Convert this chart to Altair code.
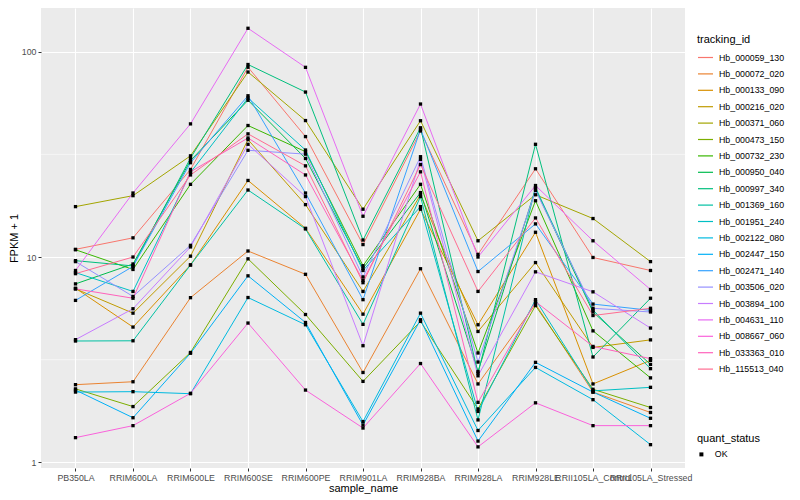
import altair as alt
import pandas as pd

samples = ["PB350LA", "RRIM600LA", "RRIM600LE", "RRIM600SE", "RRIM600PE", "RRIM901LA",
           "RRIM928BA", "RRIM928LA", "RRIM928LE", "RRII105LA_Control", "RRII105LA_Stressed"]

tracking_ids = ["Hb_000059_130", "Hb_000072_020", "Hb_000133_090", "Hb_000216_020",
                "Hb_000371_060", "Hb_000473_150", "Hb_000732_230", "Hb_000950_040",
                "Hb_000997_340", "Hb_001369_160", "Hb_001951_240", "Hb_002122_080",
                "Hb_002447_150", "Hb_002471_140", "Hb_003506_020", "Hb_003894_100",
                "Hb_004631_110", "Hb_008667_060", "Hb_033363_010", "Hb_115513_040"]

palette = ["#F8766D", "#EA8331", "#D89000", "#C09B00", "#A3A500", "#7CAE00", "#39B600",
           "#00BB4E", "#00BF7D", "#00C1A3", "#00BFC4", "#00BAE0", "#00B0F6", "#35A2FF",
           "#9590FF", "#C77CFF", "#E76BF3", "#FA62DB", "#FF62BC", "#FF6C91"]

# FPKM + 1 per sample (order of `samples`)
hb_000059_130 = [10.9, 12.4, 26.7, 84.0, 38.6, 11.5, 41.1, 10.3, 26.9, 9.95, 8.6]
hb_000072_020 = [2.39, 2.47, 6.34, 10.7, 8.24, 2.74, 8.77, 2.41, 5.9, 2.2, 1.75]
hb_000133_090 = [7.05, 4.56, 9.15, 23.6, 13.8, 5.27, 17.1, 4.68, 13.2, 2.41, 3.14]
hb_000216_020 = [7.0, 5.33, 10.1, 37.3, 18.0, 6.8, 20.1, 4.34, 9.4, 3.63, 3.95]
hb_000371_060 = [17.6, 19.9, 31.1, 79.6, 46.2, 17.1, 46.1, 12.0, 20.1, 15.4, 9.5]
hb_000473_150 = [2.28, 1.87, 3.43, 9.8, 5.25, 2.48, 4.86, 1.82, 5.8, 2.27, 1.85]
hb_000732_230 = [10.85, 8.7, 22.6, 43.7, 32.6, 9.07, 22.6, 3.41, 18.8, 4.37, 2.58]
hb_000950_040 = [7.4, 9.25, 29.5, 58.0, 30.2, 8.8, 20.6, 2.77, 21.5, 5.4, 3.0]
hb_000997_340 = [9.6, 9.05, 30.3, 86.6, 63.6, 12.1, 42.6, 2.72, 35.4, 3.26, 6.3]
hb_001369_160 = [3.9, 3.91, 9.15, 21.2, 13.7, 4.7, 19.7, 1.61, 21.8, 5.52, 2.86]
hb_001951_240 = [8.4, 6.8, 25.8, 59.5, 33.2, 8.6, 17.6, 1.77, 6.2, 2.23, 2.32]
hb_002122_080 = [2.2, 2.21, 2.16, 6.35, 4.68, 1.58, 5.33, 1.43, 2.9, 2.02, 1.22]
hb_002447_150 = [2.25, 1.65, 3.4, 8.1, 4.8, 1.52, 4.95, 1.27, 3.07, 2.2, 1.64]
hb_002471_140 = [6.15, 9.0, 28.8, 61.0, 20.5, 6.2, 41.9, 8.5, 14.5, 5.9, 5.5]
hb_003506_020 = [9.5, 6.43, 11.4, 33.1, 31.7, 8.0, 30.8, 3.08, 21.1, 5.63, 5.4]
hb_003894_100 = [3.96, 5.6, 11.2, 35.4, 19.7, 3.7, 29.9, 2.64, 8.47, 6.77, 4.51]
hb_004631_110 = [8.6, 20.5, 44.5, 130.0, 83.9, 15.8, 55.6, 10.0, 22.3, 12.0, 6.95]
hb_008667_060 = [1.32, 1.51, 2.17, 4.77, 2.25, 1.47, 3.03, 1.19, 1.95, 1.51, 1.51]
hb_033363_010 = [7.0, 6.3, 26.0, 38.0, 25.1, 7.7, 26.0, 1.96, 6.07, 3.67, 3.2]
hb_115513_040 = [8.3, 10.0, 25.1, 39.8, 27.8, 7.5, 28.2, 6.8, 15.5, 5.19, 5.63]

series = [hb_000059_130, hb_000072_020, hb_000133_090, hb_000216_020, hb_000371_060,
          hb_000473_150, hb_000732_230, hb_000950_040, hb_000997_340, hb_001369_160,
          hb_001951_240, hb_002122_080, hb_002447_150, hb_002471_140, hb_003506_020,
          hb_003894_100, hb_004631_110, hb_008667_060, hb_033363_010, hb_115513_040]

y_major = [1, 10, 100]
y_minor = [3.1623, 31.623]

rows = []
for tid, vals in zip(tracking_ids, series):
    for s, v in zip(samples, vals):
        rows.append({"tracking_id": tid, "sample_name": s, "fpkm": v, "quant_status": "OK"})
df = pd.DataFrame(rows)
minor_df = pd.DataFrame({"fpkm": y_minor})

FONT = "Liberation Sans"

x_enc = alt.X("sample_name:N", sort=samples,
              scale=alt.Scale(type="point", padding=0.6),
              title="sample_name",
              axis=alt.Axis(labelAngle=0, labelOverlap=False, labelBound=False,
                            labelFlush=False, labelLimit=200, grid=True,
                            labelPadding=2, titlePadding=1))
y_enc = alt.Y("fpkm:Q", title="FPKM + 1",
              scale=alt.Scale(type="log", domain=[0.939, 163.2], nice=False),
              axis=alt.Axis(values=y_major, format=".0f", grid=True,
                            labelPadding=2, titlePadding=2))

minor = alt.Chart(minor_df).mark_rule(color="white", strokeWidth=0.55).encode(y=y_enc)

lines = alt.Chart(df).mark_line(strokeWidth=1).encode(
    x=x_enc, y=y_enc,
    color=alt.Color("tracking_id:N",
                    scale=alt.Scale(domain=tracking_ids, range=palette),
                    legend=alt.Legend(title="tracking_id", orient="none",
                                      legendX=656, legendY=26,
                                      symbolType="stroke", symbolSize=225,
                                      symbolStrokeWidth=1.2, rowPadding=2.4,
                                      titlePadding=4, labelOffset=5, padding=0))
)

points = alt.Chart(df).mark_point(filled=True, size=11, opacity=1, color="black").encode(
    x=x_enc, y=y_enc,
    shape=alt.Shape("quant_status:N",
                    scale=alt.Scale(domain=["OK"], range=["square"]),
                    legend=alt.Legend(title="quant_status", orient="none",
                                      legendX=656, legendY=425,
                                      symbolSize=16, symbolFillColor="black",
                                      symbolStrokeColor="black", titlePadding=6,
                                      labelOffset=9, padding=0))
)

chart = alt.layer(minor, lines, points).properties(
    width=644, height=460, padding=0
).configure_view(fill="#EBEBEB", stroke=None).configure_axis(
    domain=False, tickColor="#333333", tickSize=3, tickWidth=1,
    labelColor="#4D4D4D", labelFontSize=8.8, labelFont=FONT,
    titleFont=FONT, titleFontSize=11, titleColor="black", titleFontWeight="normal",
    gridColor="white", gridWidth=1.1
).configure_legend(
    titleFont=FONT, titleFontSize=11, titleFontWeight="normal", titleColor="black",
    labelFont=FONT, labelFontSize=8.8, labelColor="black"
)

chart.save("out.html", embed_options={"renderer": "svg", "actions": False})
